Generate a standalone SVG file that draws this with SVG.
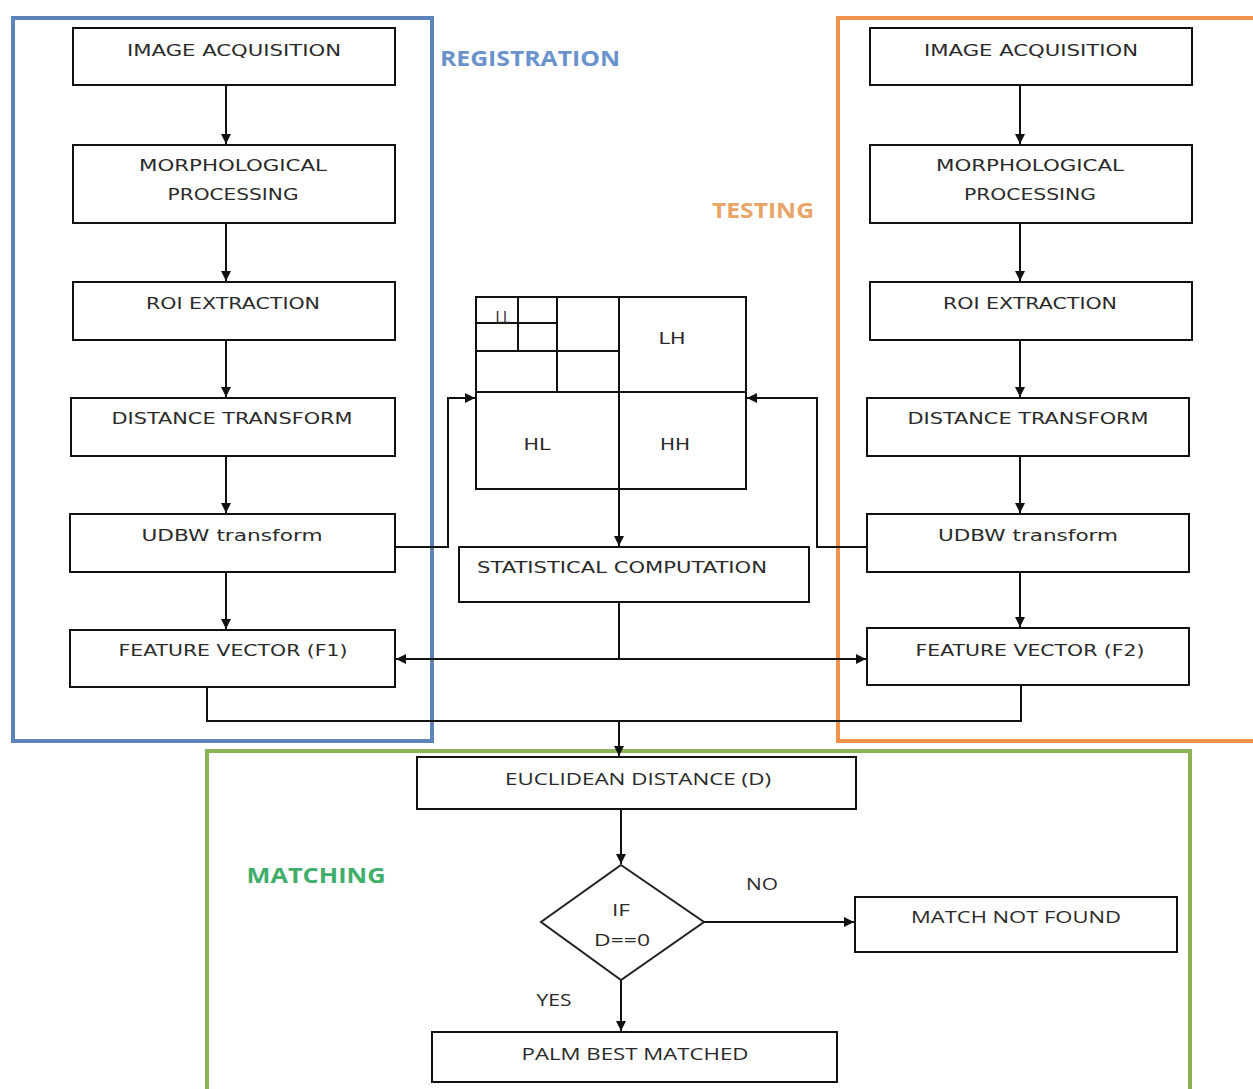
<svg xmlns="http://www.w3.org/2000/svg" width="1253" height="1089" viewBox="0 0 1253 1089">
<style>
.box{fill:#fff;stroke:#111;stroke-width:2}
.ln{fill:none;stroke:#111;stroke-width:2}
.t{font-family:"DejaVu Sans","Verdana",sans-serif;font-size:16px;fill:#2a2a2a;text-anchor:middle}
.c{font-family:"Open Sans","Liberation Sans",sans-serif;font-size:17px;fill:#2a2a2a;text-anchor:middle}
.lbl{font-family:"Open Sans","Liberation Sans",sans-serif;font-size:21px;font-weight:bold;text-anchor:middle}
</style>
<defs>
<marker id="ah" viewBox="0 0 10 10" refX="10" refY="5" markerWidth="5" markerHeight="5" orient="auto" markerUnits="strokeWidth">
<path d="M0,0 L10,5 L0,10 z" fill="#111"/>
</marker>
</defs>
<rect width="1253" height="1089" fill="#fff"/>

<g id="containers">
<rect id="registration" x="13" y="18" width="419" height="723" fill="none" stroke="#5b84ba" stroke-width="4"/>
<rect id="testing" x="838" y="18" width="420" height="723" fill="none" stroke="#f0924a" stroke-width="4"/>
<rect id="matching" x="207" y="751" width="983" height="345" fill="none" stroke="#8db356" stroke-width="4"/>
<text class="lbl" x="530" y="66" fill="#6a92cc" textLength="180" lengthAdjust="spacingAndGlyphs">REGISTRATION</text>
<text class="lbl" x="763" y="218" fill="#e9a468" textLength="102" lengthAdjust="spacingAndGlyphs">TESTING</text>
<text class="lbl" x="316" y="883" fill="#3fae6a" textLength="139" lengthAdjust="spacingAndGlyphs">MATCHING</text>
</g>

<g id="connectors">
<path class="ln" d="M226,85 V144" marker-end="url(#ah)"/>
<path class="ln" d="M226,223 V281" marker-end="url(#ah)"/>
<path class="ln" d="M226,340 V397" marker-end="url(#ah)"/>
<path class="ln" d="M226,456 V513" marker-end="url(#ah)"/>
<path class="ln" d="M226,572 V629" marker-end="url(#ah)"/>
<path class="ln" d="M1020,85 V144" marker-end="url(#ah)"/>
<path class="ln" d="M1020,223 V281" marker-end="url(#ah)"/>
<path class="ln" d="M1020,340 V397" marker-end="url(#ah)"/>
<path class="ln" d="M1020,456 V513" marker-end="url(#ah)"/>
<path class="ln" d="M1020,572 V627" marker-end="url(#ah)"/>
<path class="ln" d="M395,547 H448 V398 H475" marker-end="url(#ah)"/>
<path class="ln" d="M867,547 H817 V398 H747" marker-end="url(#ah)"/>
<path class="ln" d="M619,489 V546" marker-end="url(#ah)"/>
<path class="ln" d="M619,602 V659"/>
<path class="ln" d="M619,659 H396" marker-end="url(#ah)"/>
<path class="ln" d="M619,659 H866" marker-end="url(#ah)"/>
<path class="ln" d="M207,687 V721 H1021 V685"/>
<path class="ln" d="M619,721 V756" marker-end="url(#ah)"/>
<path class="ln" d="M621,809 V864" marker-end="url(#ah)"/>
<path class="ln" d="M704,922 H854" marker-end="url(#ah)"/>
<path class="ln" d="M621,980 V1031" marker-end="url(#ah)"/>
<text class="c" x="762" y="890" textLength="32" lengthAdjust="spacingAndGlyphs">NO</text>
<text class="c" x="554" y="1006" textLength="35" lengthAdjust="spacingAndGlyphs">YES</text>
</g>

<g id="reg-image-acquisition"><rect class="box" x="73" y="28" width="322" height="57"/><text class="t" x="234" y="56" textLength="214" lengthAdjust="spacingAndGlyphs">IMAGE ACQUISITION</text></g>
<g id="reg-morphological"><rect class="box" x="73" y="145" width="322" height="78"/><text class="t" x="233" y="171" textLength="188" lengthAdjust="spacingAndGlyphs">MORPHOLOGICAL</text><text class="t" x="233" y="200" textLength="131" lengthAdjust="spacingAndGlyphs">PROCESSING</text></g>
<g id="reg-roi"><rect class="box" x="73" y="282" width="322" height="58"/><text class="t" x="233" y="309" textLength="174" lengthAdjust="spacingAndGlyphs">ROI EXTRACTION</text></g>
<g id="reg-distance"><rect class="box" x="71" y="398" width="324" height="58"/><text class="t" x="232" y="424" textLength="241" lengthAdjust="spacingAndGlyphs">DISTANCE TRANSFORM</text></g>
<g id="reg-udbw"><rect class="box" x="70" y="514" width="325" height="58"/><text class="t" x="232" y="541" textLength="181" lengthAdjust="spacingAndGlyphs">UDBW transform</text></g>
<g id="reg-fv1"><rect class="box" x="70" y="630" width="325" height="57"/><text class="t" x="233" y="656" textLength="229" lengthAdjust="spacingAndGlyphs">FEATURE VECTOR (F1)</text></g>

<g id="test-image-acquisition"><rect class="box" x="870" y="28" width="322" height="57"/><text class="t" x="1031" y="56" textLength="214" lengthAdjust="spacingAndGlyphs">IMAGE ACQUISITION</text></g>
<g id="test-morphological"><rect class="box" x="870" y="145" width="322" height="78"/><text class="t" x="1030" y="171" textLength="188" lengthAdjust="spacingAndGlyphs">MORPHOLOGICAL</text><text class="t" x="1030" y="200" textLength="132" lengthAdjust="spacingAndGlyphs">PROCESSING</text></g>
<g id="test-roi"><rect class="box" x="870" y="282" width="322" height="58"/><text class="t" x="1030" y="309" textLength="174" lengthAdjust="spacingAndGlyphs">ROI EXTRACTION</text></g>
<g id="test-distance"><rect class="box" x="867" y="398" width="322" height="58"/><text class="t" x="1028" y="424" textLength="241" lengthAdjust="spacingAndGlyphs">DISTANCE TRANSFORM</text></g>
<g id="test-udbw"><rect class="box" x="867" y="514" width="322" height="58"/><text class="t" x="1028" y="541" textLength="180" lengthAdjust="spacingAndGlyphs">UDBW transform</text></g>
<g id="test-fv2"><rect class="box" x="867" y="628" width="322" height="57"/><text class="t" x="1030" y="656" textLength="229" lengthAdjust="spacingAndGlyphs">FEATURE VECTOR (F2)</text></g>

<g id="wavelet">
<rect class="box" x="476" y="297" width="270" height="192"/>
<path class="ln" d="M619,297 V489 M476,392 H746 M476,351 H619 M557,297 V392 M476,323 H557 M518,297 V351"/>
<text class="t" x="503" y="323" font-size="11" textLength="15" lengthAdjust="spacingAndGlyphs">LL</text>
<text class="t" x="672" y="344" textLength="27" lengthAdjust="spacingAndGlyphs">LH</text>
<text class="t" x="537" y="450" textLength="27" lengthAdjust="spacingAndGlyphs">HL</text>
<text class="t" x="675" y="450" textLength="30" lengthAdjust="spacingAndGlyphs">HH</text>
</g>

<g id="statistical"><rect class="box" x="459" y="547" width="350" height="55"/><text class="t" x="622" y="573" textLength="290" lengthAdjust="spacingAndGlyphs">STATISTICAL COMPUTATION</text></g>
<g id="euclidean"><rect class="box" x="417" y="757" width="439" height="52"/><text class="c" x="638" y="785" textLength="266" lengthAdjust="spacingAndGlyphs">EUCLIDEAN DISTANCE (D)</text></g>
<g id="decision"><path d="M621,865 L704,922 L621,980 L541,922 Z" fill="#fff" stroke="#222" stroke-width="2"/><text class="c" x="621" y="916" textLength="18" lengthAdjust="spacingAndGlyphs">IF</text><text class="c" x="622" y="946" textLength="56" lengthAdjust="spacingAndGlyphs">D==0</text></g>
<g id="not-found"><rect class="box" x="855" y="897" width="322" height="55"/><text class="c" x="1016" y="923" textLength="210" lengthAdjust="spacingAndGlyphs">MATCH NOT FOUND</text></g>
<g id="best-matched"><rect class="box" x="432" y="1032" width="405" height="50"/><text class="c" x="635" y="1060" textLength="227" lengthAdjust="spacingAndGlyphs">PALM BEST MATCHED</text></g>
</svg>
